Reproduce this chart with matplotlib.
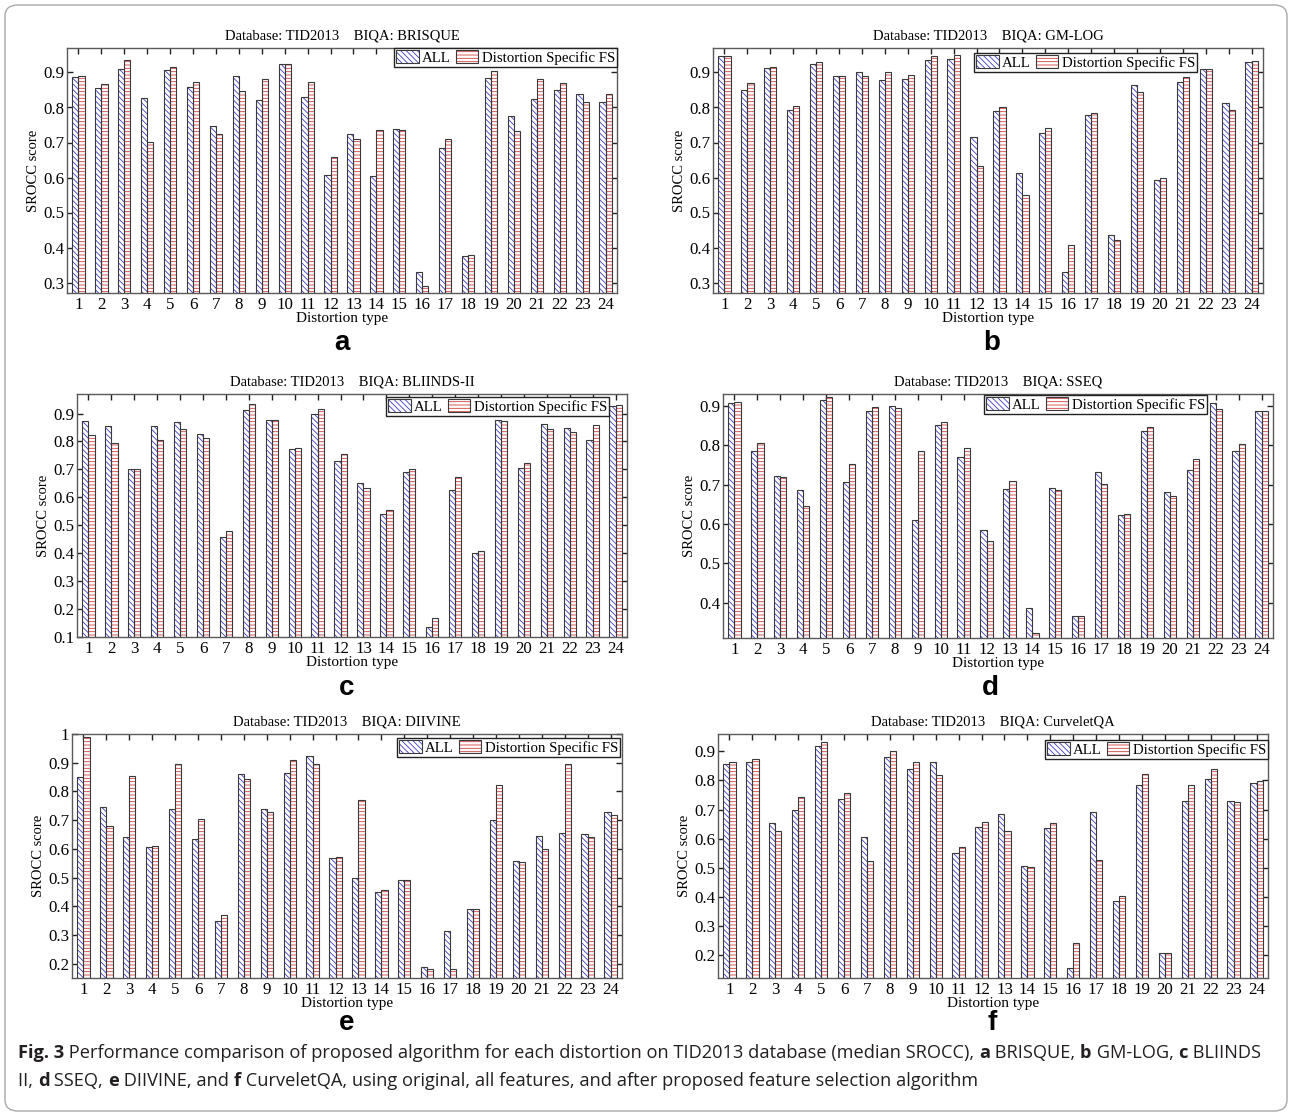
import matplotlib
matplotlib.use("Agg")
import matplotlib.pyplot as plt
import numpy as np
from matplotlib.patches import Patch, FancyBboxPatch
from matplotlib.legend_handler import HandlerTuple

plt.rcParams["hatch.linewidth"] = 0.6
plt.rcParams["font.family"] = ["Liberation Serif", "DejaVu Serif"]

W, H = 1292, 1116

distortion_types = [str(i) for i in range(1, 25)]
series_labels = ["ALL", "Distortion Specific FS"]

brisque_all = [0.886, 0.857, 0.909, 0.828, 0.906, 0.860, 0.748, 0.891, 0.822, 0.923, 0.831, 0.606,
               0.725, 0.603, 0.740, 0.330, 0.683, 0.375, 0.884, 0.776, 0.824, 0.850, 0.840, 0.815]
brisque_fs = [0.891, 0.866, 0.936, 0.701, 0.916, 0.873, 0.725, 0.846, 0.882, 0.923, 0.874, 0.658,
              0.710, 0.735, 0.737, 0.289, 0.711, 0.378, 0.905, 0.733, 0.880, 0.870, 0.815, 0.838]

gmlog_all = [0.947, 0.850, 0.912, 0.793, 0.925, 0.890, 0.901, 0.879, 0.881, 0.937, 0.940, 0.715,
             0.790, 0.614, 0.726, 0.330, 0.779, 0.436, 0.863, 0.592, 0.874, 0.909, 0.814, 0.930]
gmlog_fs = [0.947, 0.869, 0.917, 0.803, 0.930, 0.890, 0.890, 0.901, 0.892, 0.948, 0.951, 0.633,
            0.801, 0.549, 0.741, 0.408, 0.783, 0.421, 0.843, 0.599, 0.888, 0.909, 0.794, 0.932]

bliinds_all = [0.874, 0.855, 0.703, 0.855, 0.871, 0.828, 0.458, 0.913, 0.877, 0.773, 0.898, 0.731,
               0.653, 0.542, 0.691, 0.136, 0.627, 0.400, 0.876, 0.704, 0.861, 0.850, 0.807, 0.926]
bliinds_fs = [0.822, 0.793, 0.700, 0.806, 0.846, 0.813, 0.481, 0.935, 0.877, 0.777, 0.917, 0.755,
              0.633, 0.556, 0.701, 0.169, 0.673, 0.409, 0.875, 0.722, 0.845, 0.833, 0.858, 0.929]

sseq_all = [0.908, 0.786, 0.721, 0.685, 0.914, 0.706, 0.887, 0.899, 0.610, 0.851, 0.771, 0.585,
            0.688, 0.387, 0.690, 0.365, 0.731, 0.623, 0.836, 0.682, 0.738, 0.908, 0.786, 0.886]
sseq_fs = [0.909, 0.805, 0.720, 0.646, 0.922, 0.753, 0.897, 0.894, 0.786, 0.860, 0.792, 0.556,
           0.710, 0.323, 0.686, 0.367, 0.702, 0.625, 0.847, 0.671, 0.766, 0.891, 0.804, 0.887]

diivine_all = [0.850, 0.745, 0.642, 0.606, 0.738, 0.633, 0.347, 0.862, 0.737, 0.865, 0.923, 0.567,
               0.499, 0.449, 0.492, 0.189, 0.314, 0.390, 0.702, 0.558, 0.644, 0.655, 0.651, 0.728]
diivine_fs = [0.990, 0.680, 0.853, 0.609, 0.897, 0.704, 0.369, 0.844, 0.730, 0.908, 0.894, 0.571,
              0.769, 0.458, 0.492, 0.180, 0.180, 0.390, 0.824, 0.555, 0.598, 0.894, 0.640, 0.717]

curvelet_all = [0.858, 0.865, 0.652, 0.697, 0.918, 0.735, 0.606, 0.882, 0.838, 0.865, 0.550, 0.640,
                0.685, 0.504, 0.635, 0.156, 0.692, 0.386, 0.785, 0.206, 0.731, 0.805, 0.731, 0.793]
curvelet_fs = [0.862, 0.875, 0.625, 0.742, 0.932, 0.758, 0.523, 0.903, 0.865, 0.820, 0.572, 0.658,
               0.625, 0.502, 0.652, 0.242, 0.526, 0.404, 0.821, 0.206, 0.783, 0.838, 0.726, 0.797]

biqa_names = ["BRISQUE", "GM-LOG", "BLIINDS-II", "SSEQ", "DIIVINE", "CurveletQA"]
panel_letters = ["a", "b", "c", "d", "e", "f"]
yticks_a = [0.3, 0.4, 0.5, 0.6, 0.7, 0.8, 0.9]
yticks_c = [0.1, 0.2, 0.3, 0.4, 0.5, 0.6, 0.7, 0.8, 0.9]
yticks_d = [0.4, 0.5, 0.6, 0.7, 0.8, 0.9]
yticks_e = [0.2, 0.3, 0.4, 0.5, 0.6, 0.7, 0.8, 0.9, 1.0]
yticks_f = [0.2, 0.3, 0.4, 0.5, 0.6, 0.7, 0.8, 0.9]

# layout in pixels: axes box (left, top, right, bottom), y-range, legend anchor (right, top)
panels = [
    (brisque_all, brisque_fs, (67, 48, 617, 293), (0.27, 0.97), yticks_a, (617, 48), (342, 350)),
    (gmlog_all, gmlog_fs, (713, 48, 1263, 293), (0.27, 0.97), yticks_a, (1197, 53), (992, 350)),
    (bliinds_all, bliinds_fs, (77, 394, 627, 637), (0.10, 0.97), yticks_c, (609, 397), (347, 695)),
    (sseq_all, sseq_fs, (723, 394, 1273, 638), (0.31, 0.93), yticks_d, (1207, 395), (990, 695)),
    (diivine_all, diivine_fs, (72, 734, 622, 978), (0.15, 1.00), yticks_e, (620, 738), (347, 1030)),
    (curvelet_all, curvelet_fs, (718, 734, 1268, 978), (0.12, 0.96), yticks_f, (1268, 740), (992, 1030)),
]

BLUE = "#3c3cc8"
RED = "#d23c3c"
EDGE = "#3a3a3a"
SPINE = "#5a5a5a"

fig = plt.figure(figsize=(W / 100, H / 100), dpi=100)

# rounded outer frame around the whole figure
frame = FancyBboxPatch((5 / W, 5 / H), 1 - 10 / W, 1 - 10 / H,
                       boxstyle="round,pad=0,rounding_size=0.010",
                       transform=fig.transFigure, facecolor="none",
                       edgecolor="#a8a8a8", linewidth=1.0)
fig.patches.append(frame)

x = np.arange(1, 25)
bw = 0.27

for i, (vals_all, vals_fs, box, ylim, yticks, leg_anchor, letter_pos) in enumerate(panels):
    l, t, r, b = box
    ax = fig.add_axes([l / W, 1 - b / H, (r - l) / W, (b - t) / H])

    # hatched fills, then dark outlines drawn over them
    ax.bar(x - bw / 2, vals_all, bw, facecolor="white", edgecolor=BLUE,
           hatch="\\\\\\\\\\\\", linewidth=0, zorder=2)
    ax.bar(x + bw / 2, vals_fs, bw, facecolor="white", edgecolor=RED,
           hatch="-----", linewidth=0, zorder=2)
    ax.bar(x - bw / 2, vals_all, bw, fill=False, edgecolor=EDGE, linewidth=0.8, zorder=3)
    ax.bar(x + bw / 2, vals_fs, bw, fill=False, edgecolor=EDGE, linewidth=0.8, zorder=3)

    ax.set_xlim(0.5, 24.5)
    ax.set_ylim(*ylim)
    ax.set_xticks(x)
    ax.set_xticklabels(distortion_types)
    ax.set_yticks(yticks)
    ax.set_yticklabels([f"{v:g}" for v in yticks])
    ax.tick_params(direction="in", top=True, right=True, length=4, width=1.0,
                   labelsize=12.2, color="#222222")
    ax.tick_params(axis="y", pad=2)
    ax.tick_params(axis="x", pad=3)
    for sp in ax.spines.values():
        sp.set_color(SPINE)
        sp.set_linewidth(1.0)

    ax.set_xlabel("Distortion type", fontsize=11, labelpad=-1)
    ax.set_ylabel("SROCC score", fontsize=10.5, labelpad=2)
    ax.set_title(f"Database: TID2013    BIQA: {biqa_names[i]}", fontsize=10.5, pad=6)

    h_all = (Patch(facecolor="white", edgecolor=BLUE, hatch="\\\\\\\\\\\\", linewidth=0),
             Patch(fill=False, edgecolor=EDGE, linewidth=0.8))
    h_fs = (Patch(facecolor="white", edgecolor=RED, hatch="-----", linewidth=0),
            Patch(fill=False, edgecolor=EDGE, linewidth=0.8))
    leg = ax.legend([h_all, h_fs], series_labels, ncol=2, loc="upper right",
                    bbox_to_anchor=(leg_anchor[0] / W, 1 - leg_anchor[1] / H),
                    bbox_transform=fig.transFigure, borderaxespad=0,
                    handler_map={tuple: HandlerTuple(ndivide=1, pad=0)},
                    fontsize=10.7, frameon=True, fancybox=False, framealpha=1,
                    edgecolor="#222222", handlelength=1.5, handleheight=0.9,
                    handletextpad=0.25, columnspacing=0.3, borderpad=0.15)
    leg.get_frame().set_linewidth(1.0)
    leg.set_zorder(5)

    fig.text(letter_pos[0] / W, 1 - letter_pos[1] / H, panel_letters[i],
             fontsize=20, fontweight="bold", family="Liberation Sans",
             ha="center", va="baseline")

# figure caption with bold run-ins
renderer = fig.canvas.get_renderer()
cap_font = ["Open Sans", "DejaVu Sans"]


def run_width(s, size, bold):
    kw = dict(fontsize=size, fontweight="bold" if bold else "normal", family=cap_font)
    t1 = fig.text(0, 0, "|" + s + "|", **kw)
    w1 = t1.get_window_extent(renderer).width
    t1.remove()
    t0 = fig.text(0, 0, "||", **kw)
    w0 = t0.get_window_extent(renderer).width
    t0.remove()
    return w1 - w0


line1 = [("Fig. 3", True),
         (" Performance comparison of proposed algorithm for each distortion on TID2013 database (median SROCC), ", False),
         ("a", True), (" BRISQUE, ", False), ("b", True), (" GM-LOG, ", False),
         ("c", True), (" BLIINDS", False)]
line2 = [("II, ", False), ("d", True), (" SSEQ, ", False), ("e", True),
         (" DIIVINE, and ", False), ("f", True),
         (" CurveletQA, using original, all features, and after proposed feature selection algorithm", False)]

base = 11.0
w_line1 = sum(run_width(s, base, b) for s, b in line1)
cap_size = base * (1262 - 18) / w_line1


def draw_line(runs, x0, y0):
    xp = x0
    for s, b in runs:
        fig.text(xp / W, 1 - y0 / H, s, fontsize=cap_size,
                 fontweight="bold" if b else "normal", family=cap_font,
                 ha="left", va="baseline", color="#231f20")
        xp += run_width(s, cap_size, b)


draw_line(line1, 18, 1058)
draw_line(line2, 18, 1086)

fig.savefig("out.png", dpi=100, facecolor="white")
